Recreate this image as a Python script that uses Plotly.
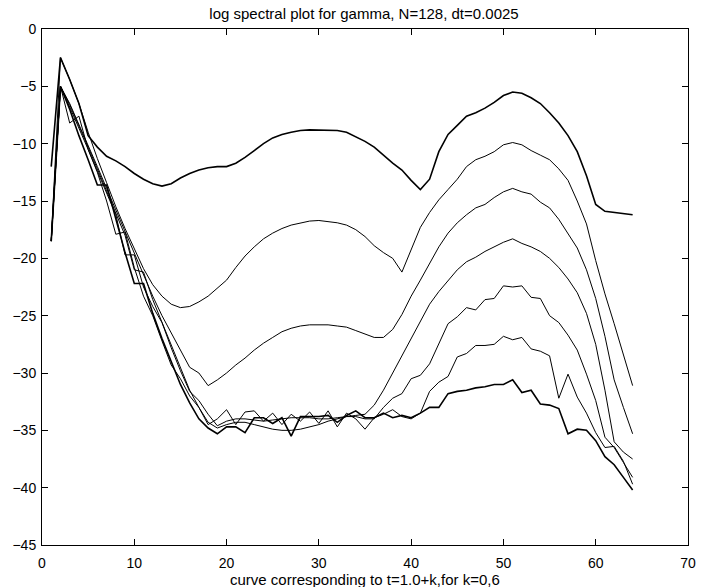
import plotly.graph_objects as go

x = list(range(1, 65))

c0 = [-12.0, -2.5, -4.4, -6.5, -9.3, -10.3, -11.1, -11.5, -12.0, -12.6,
      -13.1, -13.5, -13.7, -13.5, -13.0, -12.6, -12.3, -12.1, -12.0, -12.0,
      -11.7, -11.2, -10.6, -10.0, -9.5, -9.2, -9.0, -8.85, -8.8, -8.8,
      -8.8, -8.85, -9.0, -9.4, -9.8, -10.3, -11.0, -11.7, -12.3, -13.2,
      -14.0, -13.1, -10.7, -9.2, -8.4, -7.6, -7.3, -6.9, -6.4, -5.8,
      -5.5, -5.6, -6.0, -6.5, -7.3, -8.2, -9.3, -10.7, -12.8, -15.3,
      -15.9, -16.0, -16.1, -16.2]

c1 = [-18.5, -2.5, -4.4, -6.5, -9.0, -11.3, -13.4, -15.5, -17.4, -19.2,
      -20.9, -22.3, -23.3, -24.0, -24.3, -24.2, -23.8, -23.3, -22.6, -21.9,
      -20.8, -19.8, -19.0, -18.3, -17.8, -17.4, -17.1, -16.9, -16.75, -16.7,
      -16.8, -16.9, -17.1, -17.5, -18.1, -18.9, -19.5, -20.0, -21.2, -19.2,
      -17.3, -16.0, -14.9, -14.0, -13.1, -12.0, -11.4, -11.1, -10.7, -10.1,
      -9.9, -10.1, -10.6, -11.0, -11.4, -12.2, -13.2, -15.0, -17.0, -20.2,
      -23.1, -25.7, -28.5, -31.1]

c2 = [-18.5, -5.0, -6.5, -8.3, -10.2, -12.0, -13.9, -15.8, -17.7, -19.6,
      -21.5, -23.3, -25.0, -26.5, -28.0, -29.5, -30.0, -31.1, -30.6, -30.0,
      -29.3, -28.7, -28.0, -27.4, -26.9, -26.4, -26.1, -25.9, -25.8, -25.8,
      -25.8, -25.9, -26.0, -26.3, -26.6, -26.9, -26.9, -26.2, -24.9, -23.3,
      -21.9, -20.4, -19.0, -17.8, -16.9, -16.2, -15.6, -15.3, -14.7, -14.2,
      -13.9, -14.2, -14.4, -15.1, -15.6, -16.6, -17.8, -19.1, -21.0, -23.5,
      -26.8, -30.6, -33.0, -35.3]

c3 = [-18.5, -5.0, -6.6, -8.4, -10.3, -12.2, -14.1, -16.0, -18.0, -21.0,
      -21.2, -23.6, -25.6, -27.6, -29.6, -31.5, -33.0, -34.3, -34.8, -34.5,
      -34.3, -34.3, -34.5, -34.7, -34.9, -35.0, -35.0, -34.9, -34.7, -34.5,
      -34.2, -34.0, -33.8, -33.7, -33.6, -32.8, -31.5, -30.0, -28.5, -27.0,
      -25.4, -24.0, -22.9, -21.9, -21.0, -20.3, -19.9, -19.4, -19.0, -18.6,
      -18.3, -18.7, -19.0, -19.4, -20.0, -20.8, -21.8, -23.0, -24.8, -27.5,
      -31.5, -36.0, -36.9, -37.5]

c4 = [-18.5, -5.0, -6.8, -8.6, -10.5, -12.4, -14.3, -16.2, -19.7, -19.7,
      -22.5, -24.2, -25.6, -27.8, -29.8, -31.6, -32.4, -33.6, -34.6, -34.2,
      -34.0, -34.0, -34.1, -34.2, -34.1, -34.0, -33.9, -33.9, -33.9, -34.0,
      -34.0, -33.9, -33.8, -33.8, -34.0, -34.0, -33.0, -32.2, -31.8, -30.5,
      -30.2, -29.2, -27.4, -25.7, -25.1, -24.3, -24.5, -23.6, -23.5, -22.4,
      -22.5, -22.4, -23.4, -23.5, -25.0, -25.6, -26.7, -28.0, -30.1, -32.4,
      -35.6, -36.5, -37.8, -39.1]

c5 = [-18.5, -5.0, -8.2, -7.6, -10.5, -12.5, -15.0, -17.9, -17.7, -20.8,
      -23.3, -25.0, -27.2, -29.3, -30.5, -32.0, -33.0, -34.5, -34.0, -33.2,
      -34.5, -33.4, -33.3, -34.2, -33.5, -34.5, -33.6, -34.2, -33.4, -34.4,
      -33.3, -34.7, -33.5, -34.0, -34.9, -33.9, -33.6, -33.2, -33.8, -34.0,
      -33.5, -31.6, -30.8, -30.3, -28.6, -28.3, -27.6, -27.6, -27.5, -26.8,
      -27.1, -26.9, -27.9, -28.1, -28.5, -32.2, -30.1, -32.1, -33.5, -35.2,
      -36.5, -36.4, -37.7, -39.7]

c6 = [-18.5, -5.0, -7.0, -9.3, -11.4, -13.6, -13.6, -16.6, -19.5, -22.2,
      -22.2, -24.8, -27.0, -29.0, -31.0, -32.6, -34.0, -34.8, -35.3, -34.7,
      -34.7, -35.2, -33.9, -33.9, -34.4, -33.9, -35.5, -33.8, -33.8, -33.8,
      -33.7, -34.3, -33.7, -33.3, -33.9, -33.9, -33.5, -33.9, -33.7, -33.9,
      -33.5, -33.0, -33.0, -31.8, -31.6, -31.5, -31.3, -31.2, -31.0, -31.0,
      -30.6, -31.7, -31.5, -32.7, -32.8, -33.1, -35.3, -34.9, -35.0, -35.9,
      -37.3, -38.0, -39.1, -40.2]

curves = [c0, c1, c2, c3, c4, c5, c6]
widths = [1.6, 1.0, 1.0, 1.0, 1.0, 1.0, 1.6]

x_ticks = [0, 10, 20, 30, 40, 50, 60, 70]
y_ticks = [0, -5, -10, -15, -20, -25, -30, -35, -40, -45]

title_text = "log spectral plot for gamma, N=128, dt=0.0025"
xlabel_text = "curve corresponding to t=1.0+k,for k=0,6"

fig = go.Figure()
for c, w in zip(curves, widths):
    fig.add_trace(go.Scatter(x=x, y=c, mode="lines",
                             line=dict(color="black", width=w),
                             showlegend=False, hoverinfo="skip"))

family = "Liberation Sans, Arial, Helvetica, sans-serif"
font = dict(family=family, size=15, color="black")
tick_font = dict(family=family, size=14, color="black")

axis_common = dict(
    showgrid=False, zeroline=False, showline=True, linecolor="black", linewidth=1,
    mirror="ticks", ticks="inside", ticklen=6, tickwidth=1, tickcolor="black",
    tickfont=tick_font,
)

fig.update_layout(
    width=704, height=587,
    margin=dict(l=42, r=8, t=29, b=42),
    paper_bgcolor="white", plot_bgcolor="white",
    font=font,
    title=dict(text=title_text, x=364 / 704, xanchor="center",
               y=1 - 14 / 587, yanchor="middle", font=font),
    xaxis=dict(range=[0, 70], tickvals=x_ticks, ticklabelstandoff=5, **axis_common),
    yaxis=dict(range=[-45, 0], tickvals=y_ticks, ticklabelstandoff=2, **axis_common),
    annotations=[dict(text=xlabel_text, x=0.5, xref="paper", y=0, yref="paper",
                      xanchor="center", yanchor="top", yshift=-24, showarrow=False,
                      font=font)],
)

fig.write_html("out.html")
